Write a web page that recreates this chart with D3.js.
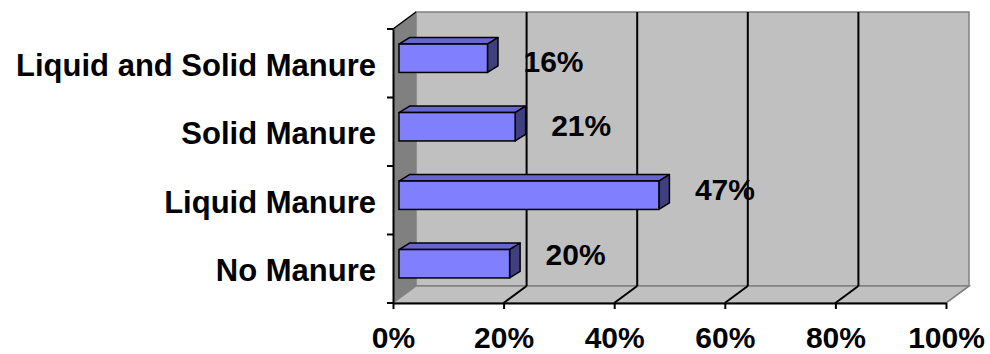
<!DOCTYPE html>
<html>
<head>
<meta charset="utf-8">
<script src="https://cdn.jsdelivr.net/npm/d3@7"></script>
<style>
  html, body { margin: 0; padding: 0; background: #fff; }
  svg { display: block; font-family: "Liberation Sans", Arial, sans-serif; }
</style>
</head>
<body>
<svg id="chart" width="990" height="354"></svg>
<script>
// ---- data ----
const categories = ["Liquid and Solid Manure", "Solid Manure", "Liquid Manure", "No Manure"];
const values = [16, 21, 47, 20];
const tickValues = [0, 20, 40, 60, 80, 100];
const tickLabels = ["0%", "20%", "40%", "60%", "80%", "100%"];

// ---- layout ----
const svg = d3.select("#chart");
const front = { left: 393, right: 946, top: 29, bottom: 303 };
const depth = { dx: 23, dy: -17 };
const bar = { dx: 6, dy: -5, h: 28.4, ddx: 10.5, ddy: -6.5 };

const x = d3.scaleLinear().domain([0, 100]).range([front.left, front.right]);
const y = d3.scaleBand().domain(categories).range([front.top, front.bottom]).padding(0);
// value labels sit in the receding plane
const yLab = d3.scaleBand().domain(categories).range([front.top, front.bottom + depth.dy]).padding(0);

const gray = "#c0c0c0", dark = "#808080";

// back wall
svg.append("rect")
  .attr("x", front.left + depth.dx).attr("y", front.top + depth.dy)
  .attr("width", front.right - front.left).attr("height", front.bottom - front.top)
  .attr("fill", gray).attr("stroke", dark).attr("stroke-width", 1.5);

// left side wall
const pts = a => a.map(p => p.join(",")).join(" ");
svg.append("polygon")
  .attr("points", pts([[front.left, front.top], [front.left + depth.dx, front.top + depth.dy],
                       [front.left + depth.dx, front.bottom + depth.dy], [front.left, front.bottom]]))
  .attr("fill", dark).attr("stroke", "none");
svg.append("line")
  .attr("x1", front.left).attr("y1", front.top)
  .attr("x2", front.left + depth.dx).attr("y2", front.top + depth.dy)
  .attr("stroke", "#000").attr("stroke-width", 1.5);

// floor
svg.append("polygon")
  .attr("points", pts([[front.left, front.bottom], [front.left + depth.dx, front.bottom + depth.dy],
                       [front.right + depth.dx, front.bottom + depth.dy], [front.right, front.bottom]]))
  .attr("fill", gray).attr("stroke", dark).attr("stroke-width", 1.5);

// gridlines on back wall and floor
const grid = svg.append("g");
tickValues.filter(t => t > 0 && t < 100).forEach(t => {
  grid.append("line")
    .attr("x1", x(t) + depth.dx).attr("x2", x(t) + depth.dx)
    .attr("y1", front.top + depth.dy).attr("y2", front.bottom + depth.dy)
    .attr("stroke", "#000").attr("stroke-width", 2);
});
tickValues.filter(t => t > 0).forEach(t => {
  grid.append("line")
    .attr("x1", x(t)).attr("y1", front.bottom)
    .attr("x2", x(t) + depth.dx).attr("y2", front.bottom + depth.dy)
    .attr("stroke", t < 100 ? "#000" : dark).attr("stroke-width", t < 100 ? 2 : 1.5);
});

// bars
const bars = svg.append("g").selectAll("g").data(categories).join("g");
bars.each(function(c, i) {
  const g = d3.select(this);
  const x0 = x(0) + bar.dx, x1 = x(values[i]) + bar.dx;
  const yc = y(c) + y.bandwidth() / 2 + bar.dy;
  const yt = yc - bar.h / 2, yb = yc + bar.h / 2;
  // top face
  g.append("polygon")
    .attr("points", pts([[x0, yt], [x0 + bar.ddx, yt + bar.ddy], [x1 + bar.ddx, yt + bar.ddy], [x1, yt]]))
    .attr("fill", "#6666cc").attr("stroke", "#000").attr("stroke-width", 1.5).attr("stroke-linejoin", "round");
  // side face
  g.append("polygon")
    .attr("points", pts([[x1, yt], [x1 + bar.ddx, yt + bar.ddy], [x1 + bar.ddx, yb + bar.ddy], [x1, yb]]))
    .attr("fill", "#404080").attr("stroke", "#000").attr("stroke-width", 1.5).attr("stroke-linejoin", "round");
  // front face
  g.append("rect")
    .attr("x", x0).attr("y", yt).attr("width", x1 - x0).attr("height", bar.h)
    .attr("fill", "#8080ff").attr("stroke", "#000").attr("stroke-width", 1.5);
  // value label
  g.append("text")
    .attr("x", x1 + 36).attr("y", yLab(c) + yLab.bandwidth() / 2)
    .attr("dy", "0.36em")
    .attr("font-size", 30).attr("font-weight", "bold").attr("fill", "#000")
    .text(values[i] + "%");
});

// bottom axis
const xAxis = d3.axisBottom(x).tickValues(tickValues)
  .tickFormat((d, i) => tickLabels[i]).tickSize(6).tickSizeOuter(0).tickPadding(18);
const gx = svg.append("g").attr("transform", `translate(0,${front.bottom})`).call(xAxis);
gx.select(".domain").attr("stroke", "#000").attr("stroke-width", 2);
gx.selectAll(".tick line").attr("stroke", "#000").attr("stroke-width", 2);
gx.selectAll(".tick text").attr("font-size", 30).attr("font-weight", "bold")
  .attr("font-family", "Liberation Sans, Arial, sans-serif").attr("fill", "#000");

// left axis
const yAxis = d3.axisLeft(y).tickSize(0).tickSizeOuter(0).tickPadding(17);
const gy = svg.append("g").attr("transform", `translate(${front.left},0)`).call(yAxis);
gy.select(".domain").attr("stroke", "#000").attr("stroke-width", 2);
gy.selectAll(".tick text").attr("font-size", 31).attr("font-weight", "bold")
  .attr("font-family", "Liberation Sans, Arial, sans-serif").attr("fill", "#000").attr("dy", "0.4em");
// boundary ticks
const bounds = categories.map(c => y(c)).concat([front.bottom]);
gy.selectAll(".btick").data(bounds).join("line").attr("class", "btick")
  .attr("x1", -6).attr("x2", 0).attr("y1", d => d).attr("y2", d => d)
  .attr("stroke", "#000").attr("stroke-width", 2);
</script>
</body>
</html>
